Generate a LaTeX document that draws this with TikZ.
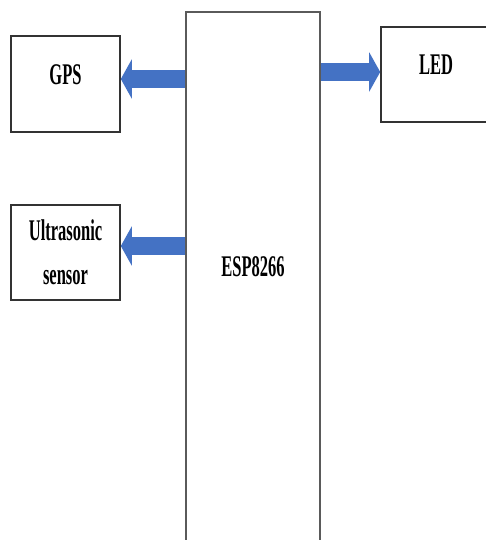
\documentclass[tikz,border=0pt]{standalone}
\usepackage{fontspec}
\newfontfamily\blockfont[FakeStretch=0.55]{Liberation Serif}
\usetikzlibrary{arrows.meta,calc}
\definecolor{espBlue}{HTML}{4472C4}
\definecolor{espEdge}{HTML}{5A5A5A}
\definecolor{boxEdge}{HTML}{333333}

\begin{document}
\begin{tikzpicture}[
  x=1pt, y=-1pt,
  font=\blockfont\bfseries\fontsize{30}{44}\selectfont,
  part/.style={draw=boxEdge, line width=1.6pt, minimum width=109pt,
               minimum height=96pt, inner sep=0pt, align=center},
  mcu/.style={draw=espEdge, line width=2pt, minimum width=134pt,
              minimum height=560pt, inner sep=0pt},
  link/.style={espBlue, line width=18pt, -{Triangle[width=39pt, length=11pt]}},
]
\useasboundingbox (0,0) rectangle (486,540);
\clip (0,0) rectangle (486,540);

\node[mcu, label={[yshift=25pt]center:ESP8266}] (esp) at (253,292) {};
\node[part, label={[yshift=9.5pt]center:GPS}] (gps) at (65.5,84) {};
\node[part, minimum width=116pt, minimum height=95pt,
      label={[xshift=-3pt, yshift=10pt]center:LED}] (led) at (439,74.5) {};
\node[part, minimum height=95pt] (sonar) at (65.5,252.5) {Ultrasonic\\sensor};

% data paths
\draw[link] ($(gps.east -| esp.west)+(0,5pt)$) -- ($(gps.east)+(0,5pt)$);
\draw[link] ($(led.west -| esp.east)+(0,2.5pt)$) -- ($(led.west)+(0,2.5pt)$);
\draw[link] ($(sonar.east -| esp.west)+(0,6.5pt)$) -- ($(sonar.east)+(0,6.5pt)$);
\end{tikzpicture}
\end{document}
